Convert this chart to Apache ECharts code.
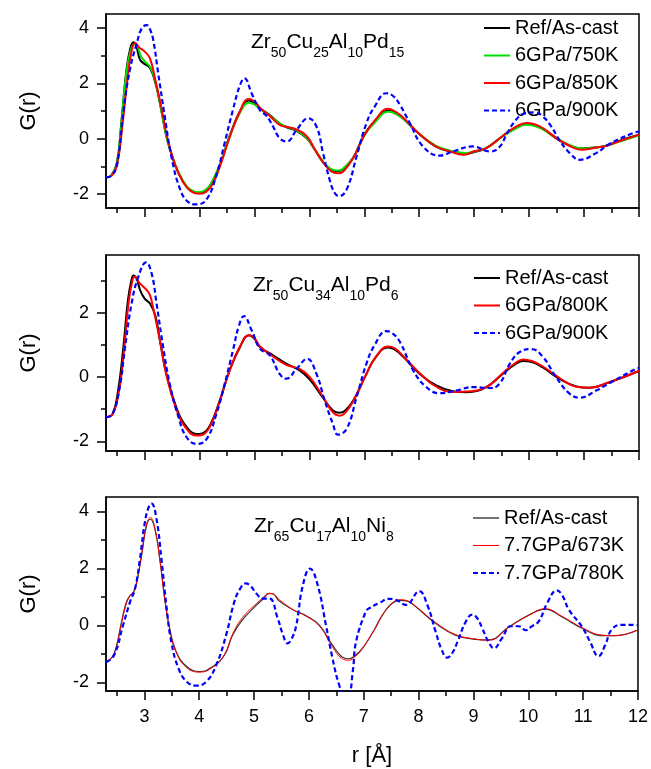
<!DOCTYPE html>
<html>
<head>
<meta charset="utf-8">
<script src="https://cdn.jsdelivr.net/npm/echarts@6/dist/echarts.min.js"></script>
<style>
html,body{margin:0;padding:0;background:#fff;}
#chart{width:651px;height:769px;}
</style>
</head>
<body>
<div id="chart"></div>
<script>
// ---------- data ----------
const xTicks = [3, 4, 5, 6, 7, 8, 9, 10, 11, 12];
const xMinorTicks = [2.5, 3.5, 4.5, 5.5, 6.5, 7.5, 8.5, 9.5, 10.5, 11.5];
const yTicks1 = [-2, 0, 2, 4];
const yTicks2 = [-2, 0, 2];
const yTicks3 = [-2, 0, 2, 4];
const yMinorTicks = [-1, 1, 3];

const title1 = [['Zr', '50'], ['Cu', '25'], ['Al', '10'], ['Pd', '15']];
const title2 = [['Zr', '50'], ['Cu', '34'], ['Al', '10'], ['Pd', '6']];
const title3 = [['Zr', '65'], ['Cu', '17'], ['Al', '10'], ['Ni', '8']];

const names1 = ['Ref/As-cast', '6GPa/750K', '6GPa/850K', '6GPa/900K'];
const names2 = ['Ref/As-cast', '6GPa/800K', '6GPa/900K'];
const names3 = ['Ref/As-cast', '7.7GPa/673K', '7.7GPa/780K'];

// panel 1: Zr50Cu25Al10Pd15
const p1Ref = [[2.3,-1.39],[2.4,-1.32],[2.5,-0.85],[2.58,0.6],[2.67,2.45],[2.74,3.25],[2.8,3.48],[2.85,3.35],[2.92,2.85],[3.0,2.7],[3.1,2.55],[3.2,2.0],[3.28,1.3],[3.4,0.08],[3.5,-0.6],[3.6,-1.15],[3.77,-1.75],[3.9,-1.93],[4.0,-1.95],[4.1,-1.88],[4.2,-1.68],[4.37,-0.95],[4.55,0.1],[4.74,1.0],[4.9,1.38],[5.0,1.28],[5.1,1.1],[5.28,0.85],[5.46,0.55],[5.6,0.4],[5.75,0.3],[5.95,0.02],[6.1,-0.4],[6.25,-0.85],[6.4,-1.12],[6.52,-1.17],[6.6,-1.12],[6.8,-0.68],[7.0,0.15],[7.2,0.65],[7.43,1.02],[7.55,0.95],[7.71,0.72],[7.85,0.45],[8.01,0.15],[8.3,-0.28],[8.55,-0.45],[8.86,-0.55],[9.0,-0.48],[9.22,-0.34],[9.52,0.1],[9.75,0.4],[9.95,0.52],[10.1,0.48],[10.25,0.35],[10.55,-0.06],[10.8,-0.3],[10.95,-0.35],[11.2,-0.32],[11.4,-0.25],[11.65,-0.07],[12,0.14]];
const p1T750 = [[2.3,-1.39],[2.4,-1.32],[2.5,-0.88],[2.58,0.55],[2.67,2.4],[2.75,3.2],[2.82,3.42],[2.87,3.35],[2.93,3.0],[3.0,2.8],[3.1,2.6],[3.2,2.05],[3.28,1.3],[3.4,0.08],[3.5,-0.6],[3.6,-1.12],[3.77,-1.72],[3.9,-1.9],[4.0,-1.93],[4.1,-1.86],[4.2,-1.66],[4.37,-0.95],[4.55,0.08],[4.74,0.95],[4.9,1.3],[5.0,1.24],[5.1,1.08],[5.28,0.84],[5.46,0.55],[5.6,0.42],[5.75,0.32],[5.95,0.04],[6.1,-0.38],[6.25,-0.82],[6.4,-1.1],[6.52,-1.15],[6.6,-1.1],[6.8,-0.68],[7.0,0.12],[7.2,0.6],[7.43,0.97],[7.55,0.92],[7.71,0.72],[7.85,0.46],[8.01,0.16],[8.3,-0.25],[8.55,-0.42],[8.86,-0.52],[9.0,-0.46],[9.22,-0.34],[9.52,0.08],[9.75,0.36],[9.95,0.5],[10.1,0.46],[10.25,0.34],[10.55,-0.04],[10.8,-0.28],[10.95,-0.35],[11.2,-0.32],[11.4,-0.26],[11.65,-0.1],[12,0.12]];
const p1T850 = [[2.3,-1.39],[2.4,-1.33],[2.5,-0.95],[2.6,0.5],[2.7,2.3],[2.77,3.2],[2.83,3.45],[2.9,3.3],[3.0,3.15],[3.1,2.9],[3.2,2.1],[3.3,1.2],[3.42,0.0],[3.55,-0.9],[3.7,-1.55],[3.85,-1.9],[4.0,-1.99],[4.12,-1.92],[4.25,-1.6],[4.4,-0.85],[4.55,0.05],[4.74,1.0],[4.89,1.43],[5.0,1.35],[5.1,1.12],[5.28,0.82],[5.46,0.5],[5.6,0.42],[5.75,0.35],[5.95,0.1],[6.1,-0.38],[6.25,-0.85],[6.4,-1.18],[6.52,-1.25],[6.62,-1.18],[6.8,-0.7],[7.0,0.12],[7.2,0.68],[7.43,1.08],[7.55,1.0],[7.71,0.76],[7.85,0.48],[8.01,0.16],[8.3,-0.28],[8.55,-0.45],[8.8,-0.58],[9.0,-0.45],[9.22,-0.34],[9.52,0.1],[9.75,0.42],[9.95,0.57],[10.1,0.52],[10.25,0.38],[10.55,-0.05],[10.8,-0.32],[10.95,-0.4],[11.2,-0.33],[11.4,-0.26],[11.65,-0.08],[12,0.14]];
const p1T900 = [[2.3,-1.39],[2.4,-1.33],[2.5,-0.95],[2.62,1.04],[2.74,2.54],[2.86,3.44],[2.95,3.98],[3.04,4.1],[3.1,3.95],[3.16,3.56],[3.25,2.36],[3.37,0.8],[3.49,-0.64],[3.65,-1.83],[3.8,-2.29],[3.95,-2.37],[4.13,-2.19],[4.31,-1.3],[4.46,-0.15],[4.61,1.04],[4.74,1.94],[4.82,2.18],[4.95,1.64],[5.1,1.04],[5.22,0.83],[5.34,0.44],[5.46,0.02],[5.59,-0.1],[5.77,0.32],[5.98,0.74],[6.13,0.44],[6.25,-0.52],[6.37,-1.48],[6.46,-1.95],[6.54,-2.07],[6.68,-1.83],[6.86,-0.64],[7.04,0.56],[7.19,1.16],[7.4,1.64],[7.52,1.55],[7.65,1.22],[7.83,0.56],[8.07,-0.28],[8.37,-0.61],[8.61,-0.46],[8.98,-0.28],[9.28,-0.46],[9.46,-0.3],[9.6,0.2],[9.75,0.65],[9.9,0.9],[10.1,0.95],[10.25,0.8],[10.4,0.45],[10.55,-0.04],[10.74,-0.52],[10.92,-0.76],[11.22,-0.52],[11.46,-0.19],[11.89,0.2],[12,0.26]];

// panel 2: Zr50Cu34Al10Pd6
const p2Ref = [[2.3,-1.25],[2.42,-1.15],[2.52,-0.42],[2.61,0.83],[2.7,2.4],[2.76,3.0],[2.8,3.16],[2.86,3.05],[2.92,2.71],[3.0,2.45],[3.1,2.29],[3.2,1.9],[3.28,1.15],[3.4,0.1],[3.58,-0.94],[3.77,-1.56],[3.95,-1.77],[4.05,-1.75],[4.19,-1.51],[4.37,-0.73],[4.55,0.21],[4.74,0.94],[4.9,1.3],[5.0,1.2],[5.1,0.94],[5.34,0.68],[5.58,0.42],[5.83,0.2],[6.01,-0.08],[6.25,-0.65],[6.43,-1.04],[6.55,-1.11],[6.65,-1.05],[6.8,-0.73],[7.04,0.1],[7.2,0.6],[7.43,0.92],[7.55,0.86],[7.71,0.63],[8.01,0.1],[8.31,-0.26],[8.61,-0.44],[8.86,-0.47],[9.22,-0.31],[9.52,0.1],[9.75,0.4],[9.89,0.5],[10.05,0.47],[10.25,0.3],[10.55,-0.05],[10.86,-0.29],[11.1,-0.33],[11.46,-0.16],[12,0.19]];
const p2T800 = [[2.3,-1.25],[2.42,-1.15],[2.53,-0.5],[2.62,0.7],[2.71,2.3],[2.78,3.0],[2.82,3.12],[2.9,2.95],[3.04,2.71],[3.1,2.55],[3.16,2.14],[3.28,1.15],[3.4,0.05],[3.58,-1.0],[3.77,-1.62],[3.95,-1.82],[4.05,-1.8],[4.19,-1.55],[4.37,-0.75],[4.55,0.21],[4.74,0.96],[4.9,1.3],[5.0,1.22],[5.1,0.96],[5.34,0.64],[5.58,0.38],[5.83,0.25],[6.01,0.0],[6.25,-0.62],[6.43,-1.1],[6.55,-1.2],[6.65,-1.12],[6.8,-0.75],[7.04,0.1],[7.2,0.6],[7.43,0.95],[7.55,0.9],[7.71,0.65],[8.01,0.12],[8.31,-0.3],[8.61,-0.46],[8.86,-0.45],[9.22,-0.31],[9.52,0.12],[9.75,0.44],[9.89,0.55],[10.05,0.5],[10.25,0.33],[10.55,-0.02],[10.86,-0.3],[11.1,-0.33],[11.46,-0.16],[12,0.19]];
const p2T900 = [[2.3,-1.25],[2.42,-1.15],[2.55,-0.31],[2.64,0.83],[2.76,2.24],[2.89,3.13],[3.03,3.57],[3.13,3.23],[3.22,2.29],[3.34,0.94],[3.46,-0.21],[3.62,-1.25],[3.77,-1.88],[3.95,-2.08],[4.13,-1.93],[4.31,-1.14],[4.46,-0.21],[4.61,0.83],[4.72,1.6],[4.81,1.9],[4.95,1.46],[5.1,0.89],[5.28,0.68],[5.46,0.1],[5.58,-0.05],[5.77,0.26],[5.96,0.57],[6.13,0.1],[6.28,-0.73],[6.43,-1.46],[6.52,-1.79],[6.68,-1.61],[6.86,-0.63],[7.04,0.42],[7.19,1.0],[7.4,1.43],[7.5,1.38],[7.65,1.09],[7.89,0.21],[8.13,-0.31],[8.37,-0.5],[8.67,-0.42],[8.98,-0.31],[9.28,-0.34],[9.46,-0.21],[9.65,0.42],[9.83,0.78],[10.04,0.87],[10.25,0.63],[10.49,0.0],[10.74,-0.52],[10.92,-0.64],[11.22,-0.42],[11.46,-0.19],[11.95,0.26],[12,0.28]];

// panel 3: Zr65Cu17Al10Ni8
const p3Ref = [[2.3,-1.29],[2.42,-1.09],[2.5,-0.65],[2.58,0.1],[2.67,0.8],[2.74,1.05],[2.8,1.15],[2.86,1.5],[2.95,2.46],[3.04,3.51],[3.11,3.72],[3.19,3.39],[3.28,2.34],[3.37,0.94],[3.46,-0.1],[3.58,-0.92],[3.77,-1.44],[4.01,-1.62],[4.25,-1.44],[4.46,-1.04],[4.61,-0.34],[4.79,0.2],[5.04,0.7],[5.15,0.9],[5.28,1.12],[5.35,1.1],[5.46,0.85],[5.71,0.55],[5.95,0.34],[6.19,0.01],[6.43,-0.69],[6.6,-1.1],[6.73,-1.17],[6.85,-1.05],[6.98,-0.8],[7.19,-0.16],[7.34,0.36],[7.5,0.75],[7.65,0.88],[7.8,0.85],[7.95,0.65],[8.31,0.07],[8.67,-0.34],[9.04,-0.49],[9.28,-0.51],[9.65,-0.05],[10.01,0.36],[10.31,0.57],[10.61,0.3],[10.98,-0.1],[11.34,-0.36],[11.58,-0.36],[12,-0.16]];
const p3T673 = [[2.3,-1.29],[2.42,-1.1],[2.5,-0.7],[2.58,0.05],[2.67,0.75],[2.74,1.05],[2.8,1.18],[2.86,1.55],[2.95,2.5],[3.04,3.55],[3.11,3.78],[3.19,3.42],[3.28,2.34],[3.37,0.94],[3.46,-0.12],[3.58,-0.95],[3.77,-1.48],[4.01,-1.64],[4.25,-1.46],[4.46,-1.02],[4.61,-0.3],[4.79,0.28],[5.04,0.76],[5.15,0.95],[5.28,1.12],[5.35,1.1],[5.46,0.9],[5.71,0.55],[5.95,0.32],[6.19,-0.02],[6.43,-0.75],[6.6,-1.16],[6.73,-1.22],[6.85,-1.08],[6.98,-0.8],[7.19,-0.16],[7.34,0.36],[7.5,0.74],[7.65,0.9],[7.8,0.86],[7.95,0.66],[8.31,0.1],[8.67,-0.32],[9.04,-0.48],[9.28,-0.52],[9.65,-0.06],[10.01,0.36],[10.31,0.58],[10.61,0.32],[10.98,-0.08],[11.34,-0.34],[11.58,-0.36],[12,-0.15]];
const p3T780 = [[2.3,-1.29],[2.45,-1.04],[2.61,0.0],[2.74,0.83],[2.83,1.29],[2.92,2.34],[3.01,3.63],[3.08,4.15],[3.13,4.27],[3.22,3.74],[3.31,2.34],[3.4,0.71],[3.49,-0.57],[3.62,-1.5],[3.77,-1.97],[3.95,-2.11],[4.13,-1.97],[4.31,-1.39],[4.49,-0.34],[4.64,0.83],[4.75,1.3],[4.85,1.47],[4.95,1.35],[5.04,1.12],[5.16,0.94],[5.28,0.94],[5.43,0.25],[5.53,-0.35],[5.61,-0.63],[5.69,-0.45],[5.77,0.01],[5.89,1.41],[6.02,1.99],[6.16,1.41],[6.31,0.01],[6.43,-1.15],[6.55,-2.08],[6.64,-2.4],[6.72,-2.4],[6.8,-1.6],[6.86,-0.57],[7.04,0.5],[7.1,0.6],[7.28,0.78],[7.46,0.93],[7.58,0.9],[7.77,0.72],[8.01,1.2],[8.16,0.71],[8.31,-0.22],[8.42,-0.85],[8.52,-1.13],[8.62,-0.95],[8.71,-0.57],[8.86,0.13],[8.98,0.38],[9.07,0.25],[9.16,-0.1],[9.28,-0.6],[9.37,-0.8],[9.52,-0.45],[9.68,-0.03],[9.83,-0.03],[9.95,-0.17],[10.05,-0.05],[10.19,0.14],[10.35,0.8],[10.52,1.23],[10.62,1.05],[10.74,0.55],[10.98,-0.05],[11.12,-0.55],[11.28,-1.08],[11.4,-0.7],[11.52,-0.15],[11.7,0.02],[11.9,0.02],[12,0.01]];

// ---------- build ----------
const FONT = 'Arial, "Liberation Sans", sans-serif';
const grids = [
  {left: 106, top: 14, width: 533, height: 194},
  {left: 106, top: 255, width: 533, height: 196},
  {left: 106, top: 497, width: 533, height: 194}
];
const yRanges = [[-2.5, 4.5], [-2.3, 3.8], [-2.3, 4.5]];
const yTickSets = [yTicks1, yTicks2, yTicks3];

function richTitle(parts) {
  return parts.map(p => '{m|' + p[0] + '}{s|' + p[1] + '}').join('');
}

const xAxes = [], yAxes = [];
grids.forEach((g, i) => {
  xAxes.push({
    type: 'value', gridIndex: i, min: 2.3, max: 12, position: 'bottom',
    axisLine: {onZero: false, lineStyle: {color: '#000', width: 1.5}},
    axisTick: {customValues: xTicks, length: 9, lineStyle: {color: '#000', width: 1.5}},
    axisLabel: {show: i === 2, customValues: xTicks, color: '#000', fontSize: 18, fontFamily: FONT, margin: 17},
    splitLine: {show: false},
    name: i === 2 ? 'r [Å]' : '', nameLocation: 'middle', nameGap: 54,
    nameTextStyle: {color: '#000', fontSize: 22, fontFamily: FONT}
  });
  xAxes.push({
    type: 'value', gridIndex: i, min: 2.3, max: 12, position: 'bottom',
    axisLine: {show: false, onZero: false},
    axisTick: {customValues: xMinorTicks, length: 5, lineStyle: {color: '#000', width: 1.5}},
    axisLabel: {show: false}, splitLine: {show: false}
  });
  yAxes.push({
    type: 'value', gridIndex: i, min: yRanges[i][0], max: yRanges[i][1], position: 'left',
    axisLine: {show: true, onZero: false, lineStyle: {color: '#000', width: 1.5}},
    axisTick: {show: true, customValues: yTickSets[i], length: 9, lineStyle: {color: '#000', width: 1.5}},
    axisLabel: {customValues: yTickSets[i], color: '#000', fontSize: 18, fontFamily: FONT, margin: 17},
    splitLine: {show: false},
    name: 'G(r)', nameLocation: 'middle', nameGap: 66,
    nameTextStyle: {color: '#000', fontSize: 22, fontFamily: FONT}
  });
  yAxes.push({
    type: 'value', gridIndex: i, min: yRanges[i][0], max: yRanges[i][1], position: 'left',
    axisLine: {show: false, onZero: false},
    axisTick: {show: true, customValues: yMinorTicks, length: 5, lineStyle: {color: '#000', width: 1.5}},
    axisLabel: {show: false}, splitLine: {show: false}
  });
});

function line(name, data, panel, color, width, dashed, z) {
  return {
    type: 'line', name: name, data: data,
    xAxisIndex: panel * 2, yAxisIndex: panel * 2,
    showSymbol: false, symbol: 'none', smooth: 0.45,
    lineStyle: {color: color, width: width, type: dashed ? [5, 3] : 'solid'},
    itemStyle: {color: color},
    z: z, animation: false, silent: true
  };
}

const BLUE = '#0000ff', RED = '#ff0000', GREEN = '#00e000', BLACK = '#000000';
const series = [
  line(names1[0], p1Ref, 0, BLACK, 2, false, 2),
  line(names1[1], p1T750, 0, GREEN, 2, false, 3),
  line(names1[2], p1T850, 0, RED, 2, false, 4),
  line(names1[3], p1T900, 0, BLUE, 2.2, true, 5),
  line(names2[0], p2Ref, 1, BLACK, 2, false, 2),
  line(names2[1], p2T800, 1, RED, 2, false, 3),
  line(names2[2], p2T900, 1, BLUE, 2.2, true, 5),
  line(names3[0], p3Ref, 2, '#333333', 1.2, false, 2),
  line(names3[1], p3T673, 2, RED, 1, false, 3),
  line(names3[2], p3T780, 2, BLUE, 2.2, true, 5)
];

// legend icons: a solid bar, a thin bar and a dashed bar (26 x 2 box)
const ICON_SOLID = 'path://M0,0h26v2h-26z';
const ICON_THIN = 'path://M0,0h26v1.1h-26z';
const ICON_DASH = 'path://M0,0h5v2h-5z M8,0h5v2h-5z M16,0h5v2h-5z M24,0h2v2h-2z';

function legendFor(names, left, top, icons) {
  return {
    orient: 'vertical', left: left, top: top, padding: 0,
    itemWidth: 26, itemHeight: 2, itemGap: 7.5, align: 'left',
    textStyle: {color: '#000', fontSize: 20, fontFamily: FONT, lineHeight: 20},
    data: names.map((n, k) => ({name: n, icon: icons[k]}))
  };
}

const richStyles = {
  m: {fontSize: 21, fontFamily: FONT, fontWeight: 'normal', color: '#000'},
  s: {fontSize: 14, fontFamily: FONT, fontWeight: 'normal', color: '#000', padding: [22, 0, 0, 0]}
};

const option = {
  backgroundColor: '#fff',
  animation: false,
  grid: grids.map(g => Object.assign({show: true, borderColor: '#000', borderWidth: 1.5, backgroundColor: 'transparent'}, g)),
  xAxis: xAxes,
  yAxis: yAxes,
  title: [
    {text: richTitle(title1), left: 251, top: 24, padding: 0, textStyle: {fontWeight: 'normal', rich: richStyles}},
    {text: richTitle(title2), left: 253, top: 267, padding: 0, textStyle: {fontWeight: 'normal', rich: richStyles}},
    {text: richTitle(title3), left: 254, top: 508, padding: 0, textStyle: {fontWeight: 'normal', rich: richStyles}}
  ],
  legend: [
    legendFor(names1, 484, 18, [ICON_SOLID, ICON_SOLID, ICON_SOLID, ICON_DASH]),
    legendFor(names2, 474, 268, [ICON_SOLID, ICON_SOLID, ICON_DASH]),
    legendFor(names3, 473, 508, [ICON_THIN, ICON_THIN, ICON_DASH])
  ],
  series: series
};

const chart = echarts.init(document.getElementById('chart'), null, {renderer: 'canvas'});
chart.setOption(option);
</script>
</body>
</html>
